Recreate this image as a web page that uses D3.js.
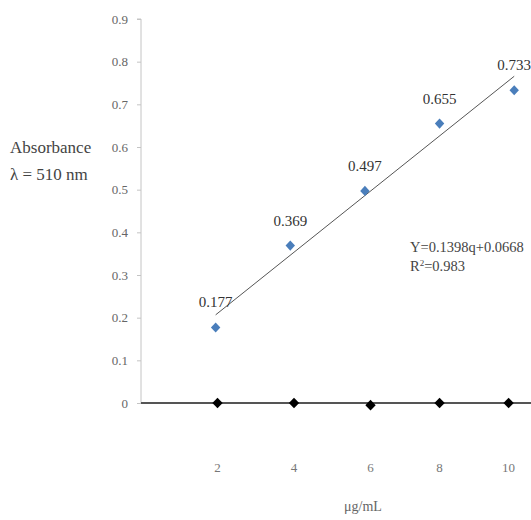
<!DOCTYPE html>
<html>
<head>
<meta charset="utf-8">
<script src="https://cdnjs.cloudflare.com/ajax/libs/d3/7.8.5/d3.min.js"></script>
<style>
  body { margin: 0; background: #fff; }
</style>
</head>
<body>
<div id="canevas"></div>
<script>
// données
let concentrations = [2, 4, 6, 8, 10];
let absorbances = [0.177, 0.369, 0.497, 0.655, 0.733];
let etiquettes = ["0.177", "0.369", "0.497", "0.655", "0.733"];

// série noire posée sur l'axe (positions)
let noirX = [2.05, 4.1, 6.15, 8, 9.85];
let noirY = [0, 0, -0.005, 0, 0];
let xTickLabels = ["2", "4", "6", "8", "10"];
let yTicks = [0, 0.1, 0.2, 0.3, 0.4, 0.5, 0.6, 0.7, 0.8, 0.9];

let police = "Liberation Serif, Times New Roman, serif";

// dimensions
let largeur = 531;
let hauteur = 520;

let canevas = d3.select("#canevas")
  .append("svg")
  .attr("width", largeur)
  .attr("height", hauteur)
  .attr("font-family", police);

canevas.append("rect")
  .attr("width", "100%")
  .attr("height", "100%")
  .attr("fill", "#ffffff");

// echelles
let echelleX = d3.scaleLinear()
  .domain([0, 10.45])
  .range([141, 531]);

let echelleY = d3.scaleLinear()
  .domain([0, 0.9])
  .range([403, 19]);

// axe Y
let axeY = canevas.append("g")
  .attr("transform", "translate(141,0)")
  .call(d3.axisLeft(echelleY)
    .tickValues(yTicks)
    .tickSize(4)
    .tickPadding(9)
    .tickFormat(d => d === 0 ? "0" : d3.format(".1f")(d)));
axeY.attr("font-family", police).attr("font-size", 13);
axeY.select(".domain").attr("stroke", "#c4c4c4").attr("d", "M-4,19H0V403");
axeY.selectAll(".tick line").attr("stroke", "#c4c4c4");
axeY.selectAll(".tick text").attr("fill", "#666");

// axe X (ligne épaisse à zéro)
canevas.append("line")
  .attr("x1", echelleX(0)).attr("x2", largeur)
  .attr("y1", echelleY(0)).attr("y2", echelleY(0))
  .attr("stroke", "#555")
  .attr("stroke-width", 2);

// labels de l'axe X
canevas.selectAll(".xlab")
  .data(xTickLabels)
  .enter()
  .append("text")
  .attr("class", "xlab")
  .attr("x", (d, i) => echelleX(noirX[i]))
  .attr("y", 472)
  .attr("text-anchor", "middle")
  .attr("fill", "#777")
  .attr("font-size", 13)
  .text(d => d);

// titres des axes
canevas.append("text")
  .attr("x", 363).attr("y", 511)
  .attr("text-anchor", "middle")
  .attr("fill", "#666")
  .attr("font-size", 14)
  .text("μg/mL");

canevas.append("text")
  .attr("x", 10).attr("y", 153)
  .attr("fill", "#444")
  .attr("font-size", 17)
  .text("Absorbance");

canevas.append("text")
  .attr("x", 10).attr("y", 180)
  .attr("fill", "#444")
  .attr("font-size", 17)
  .text("λ = 510 nm");

// droite de régression calculée sur les données (q = rang 1..5)
let q = concentrations.map((d, i) => i + 1);
let qMoy = d3.mean(q);
let aMoy = d3.mean(absorbances);
let pente = d3.sum(q, (d, i) => (d - qMoy) * (absorbances[i] - aMoy)) / d3.sum(q, d => (d - qMoy) * (d - qMoy));
let origine = aMoy - pente * qMoy;

canevas.append("line")
  .attr("x1", echelleX(concentrations[0]))
  .attr("y1", echelleY(pente * 1 + origine))
  .attr("x2", echelleX(concentrations[4]))
  .attr("y2", echelleY(pente * 5 + origine))
  .attr("stroke", "#555")
  .attr("stroke-width", 1);

// losanges noirs
canevas.selectAll(".noir")
  .data(noirX)
  .enter()
  .append("path")
  .attr("class", "noir")
  .attr("d", d3.symbol().type(d3.symbolDiamond).size(32))
  .attr("transform", (d, i) => `translate(${echelleX(d)},${echelleY(noirY[i])}) scale(1.7,1)`)
  .attr("fill", "#000");

// losanges bleus
canevas.selectAll(".bleu")
  .data(absorbances)
  .enter()
  .append("path")
  .attr("class", "bleu")
  .attr("d", d3.symbol().type(d3.symbolDiamond).size(30))
  .attr("transform", (d, i) => `translate(${echelleX(concentrations[i])},${echelleY(d)}) scale(1.6,1)`)
  .attr("fill", "#4a7ebb");

// étiquettes des valeurs
canevas.selectAll(".val")
  .data(absorbances)
  .enter()
  .append("text")
  .attr("class", "val")
  .attr("x", (d, i) => echelleX(concentrations[i]))
  .attr("y", d => echelleY(d) - 20)
  .attr("text-anchor", "middle")
  .attr("fill", "#333")
  .attr("font-size", 15)
  .text((d, i) => etiquettes[i]);

// équation
canevas.append("text")
  .attr("x", 410).attr("y", 252)
  .attr("fill", "#444")
  .attr("font-size", 14.5)
  .text("Y=" + pente.toFixed(4) + "q+" + origine.toFixed(4));

let r2 = canevas.append("text")
  .attr("x", 410).attr("y", 271)
  .attr("fill", "#444")
  .attr("font-size", 14.5);
r2.append("tspan").text("R");
r2.append("tspan").attr("dy", -5).attr("font-size", 9).text("2");
r2.append("tspan").attr("dy", 5).text("=0.983");
</script>
</body>
</html>
